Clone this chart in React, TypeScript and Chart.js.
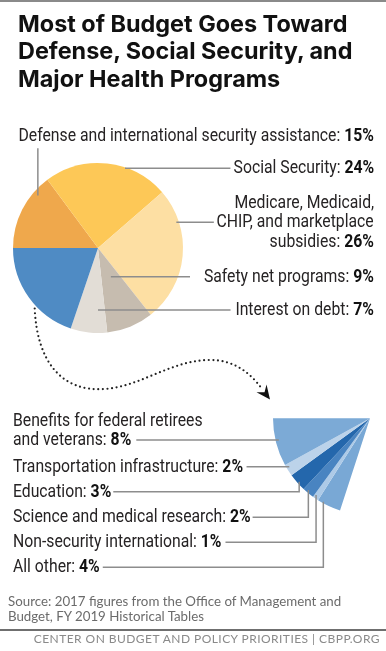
import React, { useEffect, useRef } from "react";
import { Chart, registerables } from "chart.js";

Chart.register(...registerables);

// ---------------- DATA ----------------
const mainCategories = [
  "Defense and international security assistance",
  "Social Security",
  "Medicare, Medicaid, CHIP, and marketplace subsidies",
  "Safety net programs",
  "Interest on debt",
];
const mainValues = [15, 24, 26, 9, 7];

const fanCategories = [
  "All other",
  "Non-security international",
  "Science and medical research",
  "Education",
  "Transportation infrastructure",
  "Benefits for federal retirees and veterans",
];
const fanValues = [4, 1, 2, 3, 2, 8];
const otherTotal = fanValues.reduce((a, b) => a + b, 0);

// how the label texts wrap (text only)
const mainLabelLines = [
  ["Defense and international security assistance"],
  ["Social Security"],
  ["Medicare, Medicaid,", "CHIP, and marketplace", "subsidies"],
  ["Safety net programs"],
  ["Interest on debt"],
];
const fanLabelLines = [
  ["All other"],
  ["Non-security international"],
  ["Science and medical research"],
  ["Education"],
  ["Transportation infrastructure"],
  ["Benefits for federal retirees", "and veterans"],
];

const titleLines = [
  "Most of Budget Goes Toward",
  "Defense, Social Security, and",
  "Major Health Programs",
];
const sourceLines = [
  "Source: 2017 figures from the Office of Management and",
  "Budget, FY 2019 Historical Tables",
];
const footerText = "CENTER ON BUDGET AND POLICY PRIORITIES | CBPP.ORG";

// ---------------- STYLE / LAYOUT ----------------
const W = 386;
const H = 651;
const mainColors = ["#EFA84C", "#FDC857", "#FDDFA3", "#C6BCAF", "#E2DDD6", "#4F8BC4"];
const fanColors = ["#79A8D5", "#ADCAE7", "#4984C1", "#2467AC", "#BCD3EA", "#7CAAD6"];
const LINE_COLOR = "#8d8d8d";

const LABEL_FONT = "Roboto, 'Noto Sans', sans-serif";
const LABEL_FS = 17.5;
const LABEL_ASC = 0.85;
const LABEL_SCALE = 0.9;
const LABEL_RIGHT = 374;
const LABEL_LEFT = 13;

type Leader = { kind: "h" | "v" | "elbow"; line: number; f: number; t?: number; gap?: number; side?: number };
type Lay = { baselines: number[]; align: "left" | "right"; leader: Leader };

const mainLayout: Lay[] = [
  { baselines: [141.7], align: "right", leader: { kind: "v", line: 0, t: 0.77, f: 0.94 } },
  { baselines: [174.3], align: "right", leader: { kind: "h", line: 0, f: 0.99, gap: 3, side: 1 } },
  { baselines: [209, 228.3, 247.6], align: "right", leader: { kind: "h", line: 1, f: 0.97, gap: 3, side: 1 } },
  { baselines: [282.7], align: "right", leader: { kind: "h", line: 0, f: 0.37, gap: 14, side: 1 } },
  { baselines: [316], align: "right", leader: { kind: "h", line: 0, f: 0.72, gap: 5, side: 1 } },
];
const fanLayout: Lay[] = [
  { baselines: [573.3], align: "left", leader: { kind: "elbow", line: 0, t: 0.78, f: 0.985, gap: 3 } },
  { baselines: [548.3], align: "left", leader: { kind: "elbow", line: 0, t: 0.75, f: 0.967, gap: 4 } },
  { baselines: [523.3], align: "left", leader: { kind: "elbow", line: 0, t: 0.65, f: 0.975, gap: 2 } },
  { baselines: [497.7], align: "left", leader: { kind: "elbow", line: 0, t: 0.46, f: 0.98, gap: 2 } },
  { baselines: [472.7], align: "left", leader: { kind: "h", line: 0, f: 0.97, gap: 3.5, side: -1 } },
  { baselines: [426.7, 446], align: "left", leader: { kind: "h", line: 1, f: 0.966, gap: 5, side: -1 } },
];

// decorative dotted connector (layout)
const curveStart = { t: 0.387, f: 1.03 };
const curveSegs = [
  [37, 362, 62, 392, 104, 389],
  [140, 387, 170, 361, 208, 360],
  [235, 359, 252, 375, 262, 389],
];
const arrowTip = [270, 399.5];

function arcProps(el: any) {
  return el.getProps(["x", "y", "startAngle", "endAngle", "outerRadius"], true);
}

function drawLeaders(chart: any, layout: Lay[], prefix: string) {
  const ctx = chart.ctx;
  const arcs = chart.getDatasetMeta(0).data;
  const c = chart.canvas.getBoundingClientRect();
  ctx.save();
  ctx.strokeStyle = LINE_COLOR;
  ctx.lineWidth = 1.5;
  layout.forEach((lay, i) => {
    const p = arcProps(arcs[i]);
    const L = lay.leader;
    const el = document.getElementById(`${prefix}-${i}-${L.line}`);
    if (!el) return;
    const r = el.getBoundingClientRect();
    const left = r.left - c.left;
    const right = r.right - c.left;
    const base = lay.baselines[L.line];
    const ly = base - 6;
    const R = L.f * p.outerRadius;
    ctx.beginPath();
    if (L.kind === "h") {
      const dy = ly - p.y;
      const dx = Math.sqrt(Math.max(R * R - dy * dy, 0));
      const ax = p.x + (L.side || 1) * dx;
      const tx = lay.align === "right" ? left - (L.gap || 3) : right + (L.gap || 3);
      ctx.moveTo(ax, ly);
      ctx.lineTo(tx, ly);
    } else {
      const a = p.startAngle + (L.t || 0.5) * (p.endAngle - p.startAngle);
      const ax = p.x + R * Math.cos(a);
      const ay = p.y + R * Math.sin(a);
      if (L.kind === "v") {
        ctx.moveTo(ax, ay);
        ctx.lineTo(ax, base + 6.5);
      } else {
        ctx.moveTo(ax, ay);
        ctx.lineTo(ax, ly);
        ctx.lineTo(right + (L.gap || 3), ly);
      }
    }
    ctx.stroke();
  });
  ctx.restore();
}

const mainPlugin = {
  id: "mainLeaders",
  afterDatasetsDraw(chart: any) {
    drawLeaders(chart, mainLayout, "lm");
    // dotted connector from the "other" slice to the breakdown
    const ctx = chart.ctx;
    const arcs = chart.getDatasetMeta(0).data;
    const p = arcProps(arcs[arcs.length - 1]);
    const a = p.startAngle + curveStart.t * (p.endAngle - p.startAngle);
    const sx = p.x + curveStart.f * p.outerRadius * Math.cos(a);
    const sy = p.y + curveStart.f * p.outerRadius * Math.sin(a);
    ctx.save();
    ctx.strokeStyle = "#222";
    ctx.lineWidth = 2.2;
    ctx.lineCap = "round";
    ctx.setLineDash([0, 4.6]);
    ctx.beginPath();
    ctx.moveTo(sx, sy);
    curveSegs.forEach((s) => ctx.bezierCurveTo(s[0], s[1], s[2], s[3], s[4], s[5]));
    ctx.stroke();
    ctx.setLineDash([]);
    const last = curveSegs[curveSegs.length - 1];
    const ux0 = arrowTip[0] - last[4];
    const uy0 = arrowTip[1] - last[5];
    const len = Math.hypot(ux0, uy0);
    const ux = ux0 / len, uy = uy0 / len;
    const nx = -uy, ny = ux;
    const tx = arrowTip[0], ty = arrowTip[1];
    ctx.fillStyle = "#111";
    ctx.beginPath();
    ctx.moveTo(tx, ty);
    ctx.lineTo(tx - 14 * ux + 6.3 * nx, ty - 14 * uy + 6.3 * ny);
    ctx.lineTo(tx - 9 * ux, ty - 9 * uy);
    ctx.lineTo(tx - 14 * ux - 6.3 * nx, ty - 14 * uy - 6.3 * ny);
    ctx.closePath();
    ctx.fill();
    ctx.restore();
  },
};

const fanPlugin = {
  id: "fanLeaders",
  afterDatasetsDraw(chart: any) {
    drawLeaders(chart, fanLayout, "lf");
  },
};

function LabelLine(props: { id: string; baseline: number; align: "left" | "right"; text: string; value?: number }) {
  const { id, baseline, align, text, value } = props;
  const pos: any = align === "right" ? { right: W - LABEL_RIGHT } : { left: LABEL_LEFT };
  return (
    <div
      id={id}
      style={{
        position: "absolute",
        top: baseline - LABEL_ASC * LABEL_FS,
        ...pos,
        whiteSpace: "nowrap",
        fontFamily: LABEL_FONT,
        fontSize: LABEL_FS,
        lineHeight: LABEL_FS + "px",
        color: "#262324",
        transform: `scaleX(${LABEL_SCALE})`,
        transformOrigin: align === "right" ? "right center" : "left center",
      }}
    >
      {text}
      {value !== undefined ? (
        <>
          {": "}
          <b style={{ fontWeight: 700, color: "#111" }}>{value}%</b>
        </>
      ) : null}
    </div>
  );
}

function renderLabels(lines: string[][], values: number[], layout: Lay[], prefix: string) {
  const out: any[] = [];
  lines.forEach((ls, i) => {
    ls.forEach((t, k) => {
      out.push(
        <LabelLine
          key={`${prefix}-${i}-${k}`}
          id={`${prefix}-${i}-${k}`}
          baseline={layout[i].baselines[k]}
          align={layout[i].align}
          text={t}
          value={k === ls.length - 1 ? values[i] : undefined}
        />
      );
    });
  });
  return out;
}

export default function App() {
  const mainRef = useRef<HTMLCanvasElement>(null);
  const fanRef = useRef<HTMLCanvasElement>(null);

  useEffect(() => {
    const main = new Chart(mainRef.current as HTMLCanvasElement, {
      type: "pie",
      data: {
        labels: [...mainCategories, "Other"],
        datasets: [
          {
            data: [...mainValues, otherTotal],
            backgroundColor: mainColors,
            borderWidth: 0,
          },
        ],
      },
      options: {
        responsive: false,
        animation: false,
        rotation: -90,
        events: [],
        layout: { padding: { left: 13, top: 163, right: W - 183, bottom: H - 333 } },
        plugins: { legend: { display: false }, tooltip: { enabled: false } },
      },
      plugins: [mainPlugin],
    } as any);
    const fan = new Chart(fanRef.current as HTMLCanvasElement, {
      type: "pie",
      data: {
        labels: fanCategories,
        datasets: [
          {
            data: fanValues,
            backgroundColor: fanColors,
            borderWidth: 0,
          },
        ],
      },
      options: {
        responsive: false,
        animation: false,
        rotation: 198,
        circumference: 72,
        events: [],
        layout: { padding: { left: 273, top: 418.3, right: W - 370, bottom: H - 418.3 - 92.25 } },
        plugins: { legend: { display: false }, tooltip: { enabled: false } },
      },
      plugins: [fanPlugin],
    } as any);
    return () => {
      main.destroy();
      fan.destroy();
    };
  }, []);

  const titleFs = 23.4;
  return (
    <div
      style={{
        position: "fixed",
        left: 0,
        top: 0,
        width: W,
        height: H,
        background: "#fff",
        overflow: "hidden",
      }}
    >
      <div style={{ position: "absolute", left: 0, top: 0, width: W, height: 1.5, background: "#8a8a8a" }} />
      <canvas ref={mainRef} width={W} height={H} style={{ position: "absolute", left: 0, top: 0, width: W, height: H }} />
      <canvas ref={fanRef} width={W} height={H} style={{ position: "absolute", left: 0, top: 0, width: W, height: H }} />
      {titleLines.map((t, i) => (
        <div
          key={i}
          style={{
            position: "absolute",
            left: 18,
            top: 32 + i * 27.5 - 0.86 * titleFs,
            fontFamily: "Inter, 'Open Sans', sans-serif",
            fontWeight: 700,
            fontSize: titleFs,
            lineHeight: titleFs + "px",
            letterSpacing: 0,
            whiteSpace: "nowrap",
            color: "#111",
          }}
        >
          {t}
        </div>
      ))}
      {renderLabels(mainLabelLines, mainValues, mainLayout, "lm")}
      {renderLabels(fanLabelLines, fanValues, fanLayout, "lf")}
      {sourceLines.map((t, i) => (
        <div
          key={i}
          style={{
            position: "absolute",
            left: 8,
            top: 606.7 + i * 15 - 0.88 * 13.3,
            fontFamily: "Lato, 'Open Sans', sans-serif",
            fontSize: 13.3,
            lineHeight: "13.3px",
            whiteSpace: "nowrap",
            color: "#6b6b6b",
          }}
        >
          {t}
        </div>
      ))}
      <div style={{ position: "absolute", left: 0, top: 628.5, width: W, height: 2, background: "#6f6f6f" }} />
      <div
        style={{
          position: "absolute",
          right: 6,
          top: 643.3 - 0.88 * 12,
          fontFamily: "Lato, 'Open Sans', sans-serif",
          fontSize: 12,
          lineHeight: "12px",
          letterSpacing: 0.45,
          whiteSpace: "nowrap",
          color: "#8a8a8a",
        }}
      >
        {footerText}
      </div>
    </div>
  );
}
